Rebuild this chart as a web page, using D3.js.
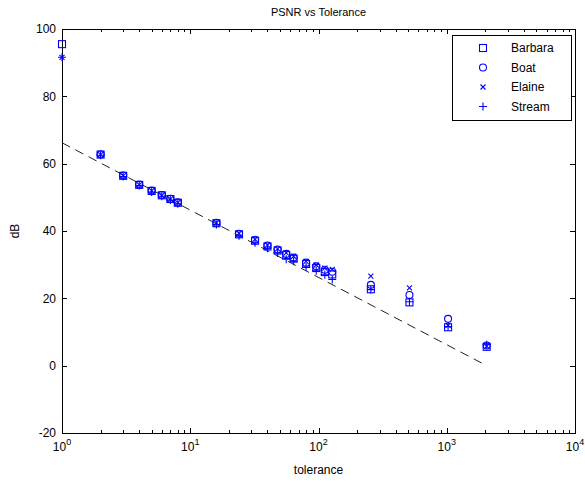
<!DOCTYPE html>
<html>
<head>
<meta charset="utf-8">
<script src="https://cdn.jsdelivr.net/npm/d3@7"></script>
<style>
  body { margin: 0; background: #fff; }
  text { font-family: "Liberation Sans", Arial, sans-serif; }
</style>
</head>
<body>
<div id="chart"></div>
<script>
// tolerance values (x axis)
const tolerance = [1, 2, 3, 4, 5, 6, 7, 8, 16, 24, 32, 40, 48, 56, 64, 80, 96, 112, 128, 256, 512, 1024, 2048];

// PSNR (dB) per image, null where lossless (not plotted)
const barbara = [95.5, 62.7, 56.4, 53.7, 51.9, 50.6, 49.5, 48.4, 42.3, 39.0, 37.1, 35.4, 34.2, 32.9, 31.8, 30.2, 29.0, 27.8, 27.1, 22.7, 18.8, 11.4, 5.6];
const boat    = [null, 62.8, 56.5, 53.8, 52.0, 50.7, 49.6, 48.5, 42.4, 39.2, 37.4, 35.7, 34.5, 33.2, 32.1, 30.6, 29.5, 28.5, 27.9, 24.0, 21.0, 13.9, 6.0];
const elaine  = [91.6, 62.7, 56.4, 53.7, 51.9, 50.6, 49.5, 48.4, 42.4, 39.3, 37.5, 35.8, 34.7, 33.5, 32.5, 31.0, 29.9, 29.0, 28.6, 26.6, 23.1, 12.0, 5.8];
const stream  = [91.6, 62.5, 56.2, 53.5, 51.6, 50.3, 49.2, 48.1, 41.9, 38.6, 36.5, 34.9, 33.5, 31.6, 31.0, 29.3, 28.2, 27.0, 25.6, 22.6, 19.0, 11.6, 6.2];

// dashed reference line (tolerance, dB)
const refTol = [1, 2048];
const refDb  = [66.2, 0.0];

const seriesNames = ["Barbara", "Boat", "Elaine", "Stream"];
const seriesValues = [barbara, boat, elaine, stream];
const seriesMarkers = ["square", "circle", "cross", "plus"];

const yTicks = [-20, 0, 20, 40, 60, 80, 100];
const xDecades = [1, 10, 100, 1000, 10000];

const width = 585, height = 481;
const margin = {left: 62, right: 10, top: 29, bottom: 48};
const blue = "#0000ff";

const svg = d3.select("#chart").append("svg")
    .attr("width", width)
    .attr("height", height);

svg.append("rect").attr("width", width).attr("height", height).attr("fill", "#fff");

const x = d3.scaleLog().domain([1, 10000]).range([margin.left, width - margin.right]);
const y = d3.scaleLinear().domain([-20, 100]).range([height - margin.bottom, margin.top]);

const x0 = x.range()[0], x1 = x.range()[1];
const y0 = y.range()[0], y1 = y.range()[1];

// minor ticks for the log axis
let minorTicks = [];
for (let d = 1; d < 10000; d *= 10) {
    for (let k = 2; k <= 9; k++) minorTicks.push(d * k);
}

const ax = svg.append("g").attr("stroke", "#000").attr("stroke-width", 1);

// x ticks on bottom and top
minorTicks.forEach(t => {
    const px = Math.round(x(t)) + 0.5;
    ax.append("line").attr("x1", px).attr("x2", px).attr("y1", y0).attr("y2", y0 - 3);
    ax.append("line").attr("x1", px).attr("x2", px).attr("y1", y1).attr("y2", y1 + 3);
});
xDecades.forEach(t => {
    const px = Math.round(x(t)) + 0.5;
    ax.append("line").attr("x1", px).attr("x2", px).attr("y1", y0).attr("y2", y0 - 5);
    ax.append("line").attr("x1", px).attr("x2", px).attr("y1", y1).attr("y2", y1 + 5);
});
// y ticks on left and right
yTicks.forEach(t => {
    const py = Math.round(y(t)) + 0.5;
    ax.append("line").attr("x1", x0).attr("x2", x0 + 5).attr("y1", py).attr("y2", py);
    ax.append("line").attr("x1", x1).attr("x2", x1 - 5).attr("y1", py).attr("y2", py);
});

// axes box
svg.append("rect")
    .attr("x", Math.round(x0) + 0.5).attr("y", Math.round(y1) + 0.5)
    .attr("width", Math.round(x1 - x0)).attr("height", Math.round(y0 - y1))
    .attr("fill", "none").attr("stroke", "#000").attr("stroke-width", 1);

// y tick labels
svg.append("g").selectAll("text").data(yTicks).enter().append("text")
    .attr("x", x0 - 6)
    .attr("y", d => y(d))
    .attr("dy", "0.35em")
    .attr("text-anchor", "end")
    .attr("font-size", 12)
    .text(d => d);

// x tick labels 10^n
const xl = svg.append("g").selectAll("text").data(xDecades).enter().append("text")
    .attr("x", d => x(d))
    .attr("y", y0 + 18)
    .attr("text-anchor", "middle")
    .attr("font-size", 12);
xl.append("tspan").text("10");
xl.append("tspan").attr("dy", -6).attr("font-size", 9).text(d => Math.round(Math.log10(d)));

// titles
svg.append("text").attr("x", (x0 + x1) / 2).attr("y", 16).attr("text-anchor", "middle")
    .attr("font-size", 11).text("PSNR vs Tolerance");
svg.append("text").attr("x", (x0 + x1) / 2).attr("y", 474).attr("text-anchor", "middle")
    .attr("font-size", 12).text("tolerance");
svg.append("text").attr("transform", "translate(19," + ((y0 + y1) / 2) + ") rotate(-90)")
    .attr("text-anchor", "middle").attr("font-size", 12).text("dB");

// dashed reference line
const line = d3.line().x(d => x(d[0])).y(d => y(d[1]));
svg.append("path")
    .datum(refTol.map((t, i) => [t, refDb[i]]))
    .attr("d", line)
    .attr("fill", "none")
    .attr("stroke", "#222")
    .attr("stroke-width", 1)
    .attr("stroke-dasharray", "9,6");

// marker drawing
function drawMarker(g, type) {
    if (type === "square") {
        g.append("rect").attr("x", -3.5).attr("y", -3.5).attr("width", 7).attr("height", 7);
    } else if (type === "circle") {
        g.append("circle").attr("r", 3.5);
    } else if (type === "cross") {
        g.append("path").attr("d", "M-2.5,-2.5L2.5,2.5M-2.5,2.5L2.5,-2.5");
    } else {
        g.append("path").attr("d", "M-4,0L4,0M0,-4L0,4");
    }
}

const plot = svg.append("g");
seriesValues.forEach((vals, si) => {
    const pts = tolerance.map((t, i) => [t, vals[i]]).filter(p => p[1] !== null);
    const g = plot.append("g").attr("fill", "none").attr("stroke", blue).attr("stroke-width", 1.1);
    g.selectAll("g").data(pts).enter().append("g")
        .attr("transform", d => "translate(" + x(d[0]) + "," + y(d[1]) + ")")
        .each(function () { drawMarker(d3.select(this), seriesMarkers[si]); });
});

// legend
const lg = svg.append("g");
lg.append("rect").attr("x", 452.5).attr("y", 35.5).attr("width", 119).attr("height", 85)
    .attr("fill", "#fff").attr("stroke", "#000").attr("stroke-width", 1);
seriesNames.forEach((name, i) => {
    const ly = 48 + i * 19.5;
    const mg = lg.append("g").attr("transform", "translate(483," + ly + ")")
        .attr("fill", "none").attr("stroke", blue).attr("stroke-width", 1.1);
    drawMarker(mg, seriesMarkers[i]);
    lg.append("text").attr("x", 511).attr("y", ly).attr("dy", "0.35em")
        .attr("font-size", 12).text(name);
});
</script>
</body>
</html>
